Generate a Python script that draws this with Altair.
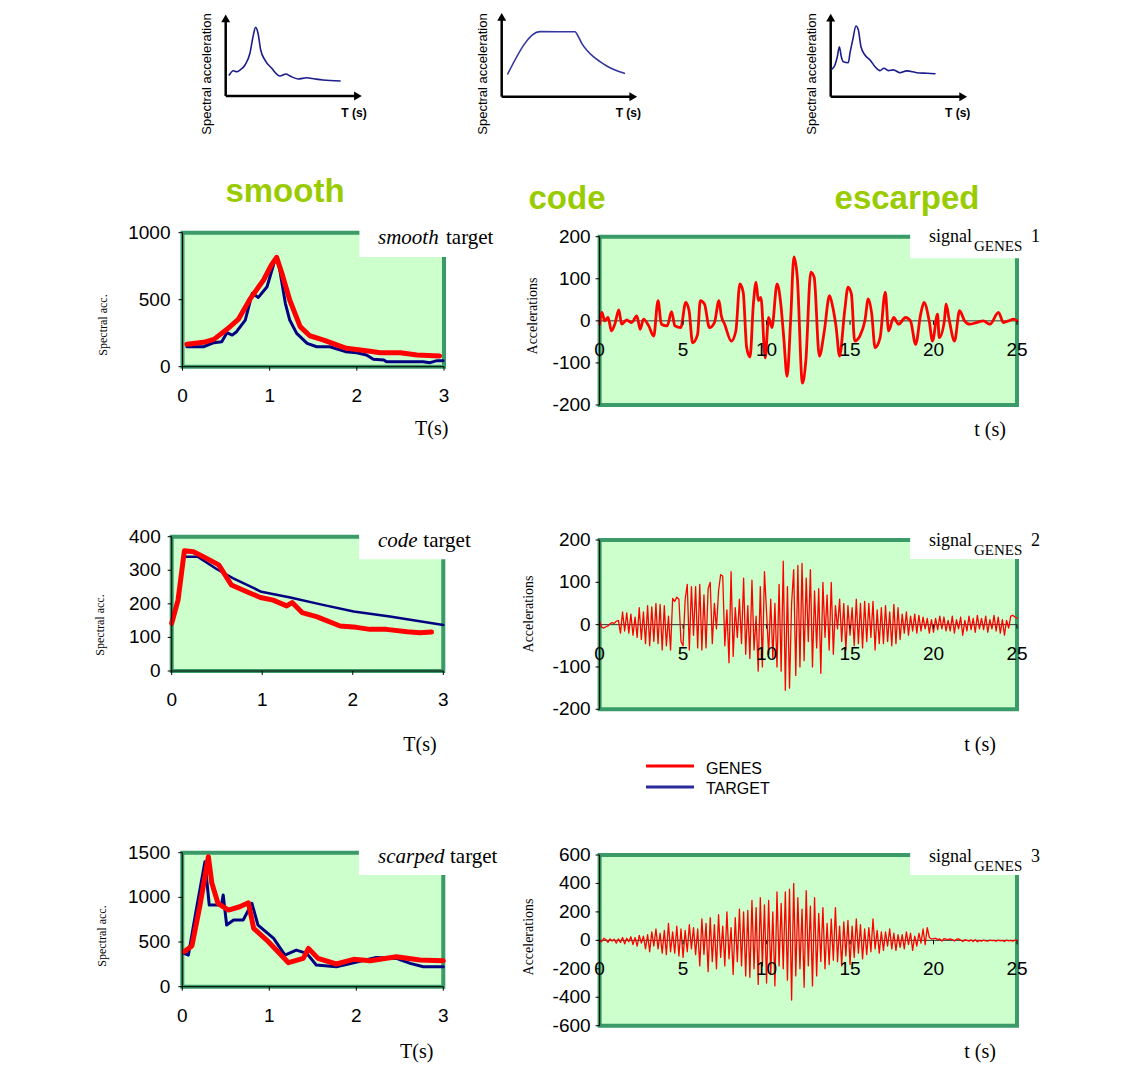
import altair as alt
import pandas as pd

W, H = 1124, 1056
RED = "#FF0000"
NAVY = "#000080"
FILL = "#CCFFCC"
BORDER = "#3A9A68"
LIME = "#99CC00"
SANS = "Liberation Sans"
SERIF = "Liberation Serif"

# ---------------- data ----------------
# top sketches (arbitrary units, axes run 0..10)
sk1_x = [0.26, 0.55, 0.80, 1.04, 1.41, 1.77, 1.99, 2.18, 2.35, 2.55, 2.86, 3.35, 3.95, 4.39, 4.68, 5.27, 5.90, 6.50, 7.09, 8.33]
sk1_y = [2.54, 3.06, 2.94, 3.14, 3.75, 5.20, 7.17, 8.30, 7.62, 5.56, 4.35, 3.35, 2.42, 2.66, 2.42, 2.06, 2.21, 2.06, 1.93, 1.81]
sk2_x = [0.44, 2.80, 5.37, 5.61, 5.86, 6.22, 6.71, 7.20, 7.69, 8.29, 8.98]
sk2_y = [2.67, 7.65, 7.65, 7.06, 6.28, 5.49, 4.71, 4.12, 3.61, 3.14, 2.75]
sk3_x = [0.07, 0.31, 0.48, 0.63, 0.77, 0.92, 1.28, 1.40, 1.60, 1.84, 2.01, 2.20, 2.49, 2.86, 3.22, 3.58, 3.87, 4.19, 4.55, 5.04, 5.52, 6.25, 6.98, 7.58]
sk3_y = [3.25, 3.77, 4.76, 5.95, 4.76, 4.17, 4.05, 5.17, 6.75, 8.42, 7.94, 5.95, 4.96, 4.37, 3.57, 3.10, 3.38, 3.10, 3.19, 2.86, 3.07, 2.86, 2.79, 2.74]

# spectra
smooth_genes_T = [0.05, 0.24, 0.36, 0.51, 0.64, 0.78, 0.93, 1.02, 1.08, 1.14, 1.23, 1.35, 1.46, 1.62, 1.88, 2.11, 2.27, 2.50, 2.69, 2.95]
smooth_genes_V = [167, 182, 204, 279, 353, 510, 647, 759, 816, 697, 498, 299, 231, 199, 137, 119, 104, 104, 87, 80]
smooth_target_T = [0.05, 0.24, 0.36, 0.45, 0.51, 0.57, 0.62, 0.72, 0.80, 0.87, 0.97, 1.06, 1.10, 1.18, 1.23, 1.31, 1.43, 1.54, 1.69, 1.87, 2.00, 2.11, 2.19, 2.31, 2.34, 2.76, 2.84, 2.92, 2.99]
smooth_target_V = [149, 149, 179, 187, 254, 236, 261, 348, 547, 517, 597, 796, 784, 473, 348, 249, 174, 149, 149, 112, 104, 87, 55, 50, 37, 37, 30, 45, 45]

code_genes_T = [0.00, 0.07, 0.14, 0.24, 0.35, 0.52, 0.66, 0.83, 0.98, 1.12, 1.27, 1.33, 1.44, 1.60, 1.86, 2.04, 2.19, 2.37, 2.60, 2.74, 2.87]
code_genes_V = [142, 211, 358, 355, 340, 316, 256, 236, 219, 211, 194, 204, 174, 162, 134, 130, 124, 124, 117, 114, 116]
code_target_T = [0.15, 0.29, 0.50, 0.68, 0.99, 1.31, 1.67, 2.01, 2.41, 3.00]
code_target_V = [340, 340, 303, 276, 236, 219, 197, 177, 162, 137]

scarped_genes_T = [0.02, 0.11, 0.20, 0.30, 0.34, 0.41, 0.53, 0.66, 0.76, 0.82, 0.97, 1.22, 1.39, 1.45, 1.56, 1.77, 1.97, 2.16, 2.46, 2.73, 3.00]
scarped_genes_V = [392, 455, 895, 1455, 1157, 933, 858, 895, 940, 653, 522, 269, 317, 429, 317, 254, 306, 291, 336, 298, 291]
scarped_target_T = [0.02, 0.07, 0.16, 0.26, 0.31, 0.45, 0.47, 0.51, 0.59, 0.70, 0.80, 0.87, 1.05, 1.18, 1.31, 1.43, 1.54, 1.77, 1.97, 2.23, 2.46, 2.62, 2.77, 3.00]
scarped_target_V = [373, 354, 858, 1399, 914, 914, 1026, 690, 746, 746, 933, 690, 541, 354, 410, 373, 243, 224, 269, 328, 317, 261, 224, 224]

# accelerograms
sig1_t = [0.00, 0.14, 0.30, 0.51, 0.71, 0.91, 1.15, 1.32, 1.62, 1.92,
          2.23, 2.43, 2.63, 2.94, 3.24, 3.50, 3.70, 4.05, 4.31, 4.51,
          4.86, 5.16, 5.36, 5.57, 5.87, 6.03, 6.28, 6.58, 6.88, 7.15,
          7.29, 7.49, 7.89, 8.16, 8.40, 8.60, 8.81, 9.01, 9.21, 9.37,
          9.51, 9.66, 9.92, 10.12, 10.32, 10.63, 10.83, 11.03, 11.23, 11.44,
          11.64, 11.84, 12.15, 12.35, 12.65, 12.85, 13.16, 13.46, 13.77, 13.97,
          14.17, 14.37, 14.68, 14.88, 15.08, 15.28, 15.59, 15.89, 16.09, 16.30,
          16.50, 16.80, 17.11, 17.31, 17.61, 17.91, 18.32, 18.62, 18.93, 19.23,
          19.43, 19.74, 19.94, 20.24, 20.34, 20.65, 20.75, 20.95, 21.26, 21.56,
          21.86, 22.17, 22.57, 22.98, 23.38, 23.89, 24.19, 24.49, 24.80, 25.00]
sig1_a = [-8, 20, 0, 8, -24, -8, 26, -8, 2, -4,
          12, -20, 4, -12, -36, 48, -8, -12, 22, -12,
          -16, 44, 24, -52, -32, 48, 40, -16, -4, 48,
          12, -8, -48, -24, 88, 68, -64, -86, 40, 92,
          48, 56, -88, 8, -16, 88, 48, -40, -132, 0,
          152, 104, -148, -96, 116, 104, -84, -24, 60, 32,
          -16, -84, 24, 80, 64, -48, -36, 0, 52, 16,
          -64, -40, 68, -24, 8, -8, 8, 0, -56, 16,
          44, 0, -48, 16, -40, 0, 40, 0, -48, 24,
          0, -8, -4, 0, -8, 20, -4, 0, 4, 0]

dt = 0.125  # sampling step of signals 2 and 3 (s)
sig2_a = [8, -6, -8, -5, -3, 2, 5, 3,
          8, 10, -20, 30, -15, 28, -20, 25,
          -25, 18, -30, 40, -35, 30, -45, 45,
          -50, 42, -40, 50, -45, 48, -60, 45,
          -50, 20, -60, 62, 55, 65, 60, -40,
          -50, 60, 95, -60, 90, -25, 90, -55,
          95, -60, 70, -55, 85, 100, -45, 50,
          -10, 80, 118, 115, -50, 35, -90, 125,
          -75, 40, -30, 60, -45, 110, -70, 45,
          -80, 105, -60, 20, -110, 90, -100, 125,
          30, -70, 60, -80, 50, -100, 95, -110,
          150, -155, 90, -150, 50, 130, -120, 140,
          -100, 145, -85, 110, -40, 130, -100, 80,
          -55, 85, -115, 100, -30, 70, -60, 100,
          -70, 45, -10, 60, -40, 50, -60, 45,
          -25, 40, -50, 60, -45, 50, -55, 55,
          -40, 50, -30, 55, -60, 35, -45, 40,
          -45, 45, -40, 30, -50, 48, -45, 40,
          -35, 25, -20, 30, -25, 20, -15, 25,
          -20, 22, -15, 18, -10, 15, -20, 12,
          -18, 15, -12, 20, -10, 18, -15, 10,
          -15, 20, -20, 12, -10, 18, -25, 10,
          -15, 20, -12, 15, -18, 22, -10, 15,
          -12, 20, -18, 12, -10, 22, -15, 18,
          -20, 12, -25, 10, -8, 20, 22, 18,
          15]
sig3_a = [0, -10, 15, 5, -15, 10, -5, 8,
          -20, 10, -15, 20, -25, 15, -10, 25,
          -30, 20, -40, 35, -20, 30, -60, 40,
          -80, 60, -40, 80, -60, 50, -90, 70,
          -100, 120, -80, 60, -90, 100, -110, 80,
          -120, 70, -80, 110, -60, 90, -100, 80,
          -180, 150, -100, 120, -220, 160, -150, 110,
          -200, 180, -120, 100, -180, 200, -130, 90,
          -240, 160, -150, 220, -180, 200, -250, 210,
          -260, 280, -200, 230, -310, 300, -180, 250,
          -300, 280, -240, 200, -320, 340, -180, 260,
          -200, 340, -280, 360, -420, 400, -250, 300,
          -200, 220, -330, 350, -180, 240, -320, 300,
          -250, 190, -150, 230, -200, 120, -170, 150,
          -140, 230, -150, 100, -180, 130, -110, 140,
          -170, 100, -120, 150, -90, 110, -130, 80,
          -100, 90, -80, 150, -60, 70, -90, 60,
          -70, 60, -40, 80, -60, 50, -70, 40,
          -50, 40, -60, 60, -30, 50, -70, 30,
          -40, 50, -20, 80, -30, 90, 20, 10,
          10, 15, 5, 10, -5, 12, 8, 5,
          10, 5, -5, 8, 10, 2, -8, 5,
          0, -5, 3, -8, 5, -10, 0, -5,
          2, -3, -6, 2, -2, 0, -5, 2,
          -3, 0, -8, 2, -4, 0, -6, 2,
          0]
sig2_t = [round(i * dt, 3) for i in range(len(sig2_a))]
sig3_t = [round(i * dt, 3) for i in range(len(sig3_a))]

T_TICKS = [0, 1, 2, 3]
t_TICKS = [0, 5, 10, 15, 20, 25]


# ---------------- helpers ----------------
def P(v):  # page coordinate -> plot coordinate
    return v - 8


def qs(dom, rng):
    return alt.Scale(domain=dom, range=[P(r) for r in rng], nice=False, zero=False)


def text(s, x, y, size, font=SANS, weight="normal", style="normal", color="black",
         align="center", angle=0, baseline="middle"):
    return alt.Chart(pd.DataFrame({"s": [s]})).mark_text(
        font=font, fontSize=size, fontWeight=weight, fontStyle=style, color=color,
        align=align, baseline=baseline, angle=angle
    ).encode(text="s:N", x=alt.value(P(x)), y=alt.value(P(y)))


def line(xs_, ys_, xsc, ysc, color, width, interp="linear"):
    df = pd.DataFrame({"x": xs_, "y": ys_})
    return alt.Chart(df).mark_line(color=color, strokeWidth=width, interpolate=interp,
                                   strokeJoin="round", strokeCap="round").encode(
        x=alt.X("x:Q", scale=xsc, axis=None), y=alt.Y("y:Q", scale=ysc, axis=None))


def rect(x0, x1, y0, y1, xsc, ysc, **kw):
    df = pd.DataFrame({"x0": [x0], "x1": [x1], "y0": [y0], "y1": [y1]})
    return alt.Chart(df).mark_rect(**kw).encode(
        x=alt.X("x0:Q", scale=xsc, axis=None), x2="x1:Q",
        y=alt.Y("y0:Q", scale=ysc, axis=None), y2="y1:Q")


def panel(xdom, xpx, ydom, ypx, xticks, yticks, x_at, zero_color, ylab_dx, box, series):
    xsc, ysc = qs(xdom, xpx), qs(ydom, ypx)

    def X(f):
        return alt.X(f, scale=xsc, axis=None)

    def Y(f):
        return alt.Y(f, scale=ysc, axis=None)

    dom = pd.DataFrame({"x0": [xdom[0]], "x1": [xdom[1]], "y0": [ydom[0]], "y1": [ydom[1]], "xa": [x_at]})
    yt = pd.DataFrame({"v": yticks, "a": [xdom[0]] * len(yticks), "lab": [str(v) for v in yticks]})
    xt = pd.DataFrame({"v": xticks, "a": [x_at] * len(xticks), "lab": [str(v) for v in xticks]})

    layers = [rect(xdom[0], xdom[1], ydom[0], ydom[1], xsc, ysc, fill=FILL, stroke=BORDER, strokeWidth=4)]
    layers.append(alt.Chart(dom).mark_rule(color=zero_color, strokeWidth=1).encode(
        x=X("x0:Q"), x2="x1:Q", y=Y("xa:Q")))
    for (sx, sy, col, wdt, itp) in series:
        layers.append(line(sx, sy, xsc, ysc, col, wdt, itp))
    layers.append(rect(box[0], box[1], box[2], box[3], xsc, ysc, fill="white", strokeWidth=0))
    layers.append(alt.Chart(dom).mark_rule(color="black", strokeWidth=1).encode(
        x=X("x0:Q"), y=Y("y0:Q"), y2="y1:Q"))
    layers.append(alt.Chart(yt).mark_rule(color="black", strokeWidth=1, x2Offset=-4).encode(
        x=X("a:Q"), x2="a:Q", y=Y("v:Q")))
    layers.append(alt.Chart(yt).mark_text(font=SANS, fontSize=19, color="black", align="right",
                                          baseline="middle", dx=ylab_dx).encode(
        x=X("a:Q"), y=Y("v:Q"), text="lab:N"))
    layers.append(alt.Chart(xt).mark_rule(color="black", strokeWidth=1, y2Offset=4).encode(
        x=X("v:Q"), y=Y("a:Q"), y2="a:Q"))
    layers.append(alt.Chart(xt).mark_text(font=SANS, fontSize=19, color="black", align="center",
                                          baseline="middle", dy=29).encode(
        x=X("v:Q"), y=Y("a:Q"), text="lab:N"))
    return alt.layer(*layers)


def sketch(xs_, ys_, ox, tipx, oy, tipy, color):
    xsc, ysc = qs([0, 10], [ox, tipx]), qs([0, 10], [oy, tipy])
    ax = alt.Chart(pd.DataFrame({"x": [0, 0], "y": [0, 0], "x2": [9.6, 0], "y2": [0, 9.4]})).mark_rule(
        color="black", strokeWidth=2.5).encode(
        x=alt.X("x:Q", scale=xsc, axis=None), x2="x2:Q",
        y=alt.Y("y:Q", scale=ysc, axis=None), y2="y2:Q")
    heads = alt.Chart(pd.DataFrame({"x": [9.63, 0], "y": [0, 9.4], "sh": ["triangle-right", "triangle-up"]})).mark_point(
        filled=True, color="black", size=80, opacity=1).encode(
        x=alt.X("x:Q", scale=xsc, axis=None), y=alt.Y("y:Q", scale=ysc, axis=None),
        shape=alt.Shape("sh:N", scale=None, legend=None))
    curve = line(xs_, ys_, xsc, ysc, color, 1.6, "monotone")
    return alt.layer(ax, heads, curve)


layers = []

# top sketches
layers.append(sketch(sk1_x, sk1_y, 225.7, 363, 96, 13.3, "#1c1c8c"))
layers.append(sketch(sk2_x, sk2_y, 501.7, 638.3, 96.7, 11.7, "#3535a0"))
layers.append(sketch(sk3_x, sk3_y, 830.7, 968.3, 96.7, 12.7, "#1c1c8c"))
for cx, tx in [(206.7, 354), (483.3, 628.3), (811.7, 957.7)]:
    layers.append(text("Spectral acceleration", cx, 74, 13, angle=270))
    layers.append(text("T (s)", tx, 113, 12, weight="bold"))

# column labels
layers.append(text("smooth", 285, 192, 33, weight="bold", color=LIME))
layers.append(text("code", 567, 199, 33, weight="bold", color=LIME))
layers.append(text("escarped", 907, 199, 33, weight="bold", color=LIME))

# spectral panels
layers.append(panel([0, 3], [182.5, 444], [0, 1000], [366.7, 232.7], T_TICKS, [0, 500, 1000],
                    0, "black", -12, (2.03, 3.15, 818, 1040),
                    [(smooth_target_T, smooth_target_V, NAVY, 3, "linear"),
                     (smooth_genes_T, smooth_genes_V, RED, 5, "linear")]))
layers.append(panel([0, 3], [171.7, 443.3], [0, 400], [671, 536.7], T_TICKS, [0, 100, 200, 300, 400],
                    0, "black", -11, (2.07, 3.15, 333, 415),
                    [(code_target_T, code_target_V, NAVY, 2.5, "linear"),
                     (code_genes_T, code_genes_V, RED, 5, "linear")]))
layers.append(panel([0, 3], [182.3, 443.3], [0, 1500], [986.7, 852.7], T_TICKS, [0, 500, 1000, 1500],
                    0, "black", -12, (2.03, 3.15, 1250, 1560),
                    [(scarped_target_T, scarped_target_V, NAVY, 3, "linear"),
                     (scarped_genes_T, scarped_genes_V, RED, 5, "linear")]))

# accelerogram panels
layers.append(panel([0, 25], [599.6, 1017], [-200, 200], [405, 236.7], t_TICKS, [-200, -100, 0, 100, 200],
                    0, "#333333", -9, (18.6, 25.8, 149, 215),
                    [(sig1_t, sig1_a, RED, 2.8, "monotone")]))
layers.append(panel([0, 25], [599.6, 1017], [-200, 200], [709.3, 540], t_TICKS, [-200, -100, 0, 100, 200],
                    0, "#333333", -9, (18.6, 25.8, 155, 215),
                    [(sig2_t, sig2_a, RED, 1.3, "linear")]))
layers.append(panel([0, 25], [599.6, 1017], [-600, 600], [1025.7, 855], t_TICKS, [-600, -400, -200, 0, 200, 400, 600],
                    0, "#333333", -9, (18.6, 25.8, 459, 640),
                    [(sig3_t, sig3_a, RED, 1.3, "linear")]))

# axis titles
for x, y in [(431.7, 429.3), (420, 745), (416.7, 1052)]:
    layers.append(text("T(s)", x, y, 20, font=SERIF))
for x, y in [(990, 430), (980, 745), (980, 1052)]:
    layers.append(text("t (s)", x, y, 20, font=SERIF))
for x, y in [(103.3, 325), (100, 625), (101.7, 936)]:
    layers.append(text("Spectral acc.", x, y, 12, font=SERIF, angle=270))
for x, y in [(533, 316), (528.6, 614), (528.6, 937)]:
    layers.append(text("Accelerations", x, y, 14, font=SERIF, angle=270))

# panel titles
for word, yc, tx in [("smooth", 238.3, 446), ("code", 540.7, 423.3), ("scarped", 857.3, 450)]:
    layers.append(text(word, 378, yc, 21, font=SERIF, style="italic", align="left"))
    layers.append(text("target", tx, yc, 21, font=SERIF, align="left"))
for num, yc in [("1", 237), ("2", 540.7), ("3", 857)]:
    layers.append(text("signal", 929, yc, 18, font=SERIF, align="left"))
    layers.append(text("GENES", 974, yc + 9, 15, font=SERIF, align="left"))
    layers.append(text(num, 1031, yc, 18, font=SERIF, align="left"))

# legend
leg = pd.DataFrame({"s": ["GENES"]})
layers.append(alt.Chart(leg).mark_rule(color=RED, strokeWidth=3).encode(
    x=alt.value(P(646)), x2=alt.value(P(694)), y=alt.value(P(766))))
layers.append(alt.Chart(leg).mark_rule(color="#2a2a9a", strokeWidth=3).encode(
    x=alt.value(P(646)), x2=alt.value(P(694)), y=alt.value(P(787))))
layers.append(text("GENES", 706, 769, 16, align="left"))
layers.append(text("TARGET", 706, 789, 16, align="left"))

chart = alt.layer(*layers).resolve_scale(
    x="independent", y="independent", shape="independent"
).properties(
    width=W, height=H, padding=0, autosize=alt.AutoSizeParams(type="none"), background="white"
).configure_view(stroke=None)

chart.save("out.html", embed_options={"renderer": "svg", "actions": False})
